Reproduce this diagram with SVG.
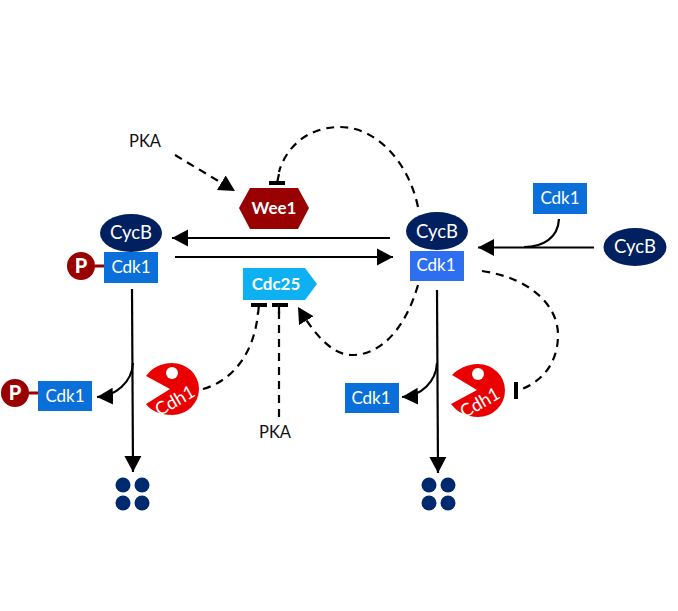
<svg xmlns="http://www.w3.org/2000/svg" width="678" height="611" viewBox="0 0 678 611">
<style>
text{font-family:"Lato","Liberation Sans",sans-serif;text-anchor:middle}
.w{fill:#fff;font-size:17px}
.c{font-size:18.500px}
.h{font-size:18px}
.b{font-weight:700}
.r{font-size:20px;font-weight:900}
.k{fill:#111;font-size:16.500px}
.cyc{fill:#002060}
.cdk{fill:#0a6fd8}
.p{fill:#990000}
.cdh{fill:#ea0000}
.dot{fill:#002a6e}
.l{fill:none;stroke:#000;stroke-width:2.200}
.d{fill:none;stroke:#000;stroke-width:2.200;stroke-dasharray:8 6}
.bar{fill:none;stroke:#000;stroke-width:4}
.link{stroke:#990000;stroke-width:3}
</style>
<defs>
<marker id="a" markerUnits="userSpaceOnUse" markerWidth="18" markerHeight="19" refX="16" refY="9" orient="auto"><path d="M0 0.500L16 9L0 17.500Z" fill="#000"/></marker>
</defs>
<g id="connectors">
<path class="l" d="M390 238H172" marker-end="url(#a)"/>
<path class="l" d="M175 257H393" marker-end="url(#a)"/>
<path class="l" d="M594 247.500H478" marker-end="url(#a)"/>
<path class="l" d="M559 219C558 238 543 247 524 247"/>
<path class="l" d="M132 289L133 472" marker-end="url(#a)"/>
<path class="l" d="M133 363C132 382 116 396 97 397" marker-end="url(#a)"/>
<path class="l" d="M437 290L438 473" marker-end="url(#a)"/>
<path class="l" d="M437 363C436 382 421 396 402 397" marker-end="url(#a)"/>
<path class="d" d="M175 155L235 191" marker-end="url(#a)"/>
<path class="d" d="M418 207C408 160 375 127 340 127C305 127 285 150 279 172"/>
<path class="l" d="M279 174L277 183"/>
<path class="bar" d="M269 183H285"/>
<path class="d" d="M203 389C235 380 255 350 258 312"/>
<path class="l" d="M258 314L259 305"/>
<path class="bar" d="M251 305H267M272 305H288"/>
<path class="d" d="M279 417V311"/>
<path class="l" d="M279 314V305"/>
<path class="d" d="M418 285C405 330 380 355 352 355C330 355 312 330 298 307" marker-end="url(#a)"/>
<path class="d" d="M482 271C530 278 558 305 558 335C558 365 540 382 522 389"/>
<path class="bar" d="M516 382V399"/>
<path class="link" d="M95 266H104M29 393H38"/>
</g>
<g id="pka-top"><text class="k" x="145" y="147">PKA</text></g>
<g id="pka-bottom"><text class="k" x="275" y="438">PKA</text></g>
<g id="wee1"><polygon class="p" points="239,208 250,188 298,188 309,208 298,229 250,229"/><text class="w b" x="274" y="214">Wee1</text></g>
<g id="cdc25"><polygon fill="#0db0f0" points="243,268 305,268 317,284 305,300 243,300"/><text class="w b" x="276" y="290">Cdc25</text></g>
<g id="cycb-left"><ellipse class="cyc" cx="131" cy="233" rx="31" ry="19"/><text class="w c" x="131" y="239">CycB</text></g>
<g id="cdk1-left"><rect class="cdk" x="104" y="252" width="54" height="31"/><text class="w" x="131" y="273">Cdk1</text></g>
<g id="p-left"><circle class="p" cx="81" cy="266" r="14"/><text class="w r" x="81" y="273">P</text></g>
<g id="cycb-right"><ellipse class="cyc" cx="437" cy="231" rx="31" ry="19"/><text class="w c" x="437" y="238">CycB</text></g>
<g id="cdk1-right"><rect fill="#2e6ff2" x="410" y="251" width="54" height="30"/><text class="w" x="436" y="271">Cdk1</text></g>
<g id="cdk1-free"><rect class="cdk" x="533" y="183" width="54" height="31"/><text class="w" x="560" y="204">Cdk1</text></g>
<g id="cycb-free"><ellipse class="cyc" cx="635" cy="247" rx="31.500" ry="19"/><text class="w c" x="635" y="253">CycB</text></g>
<g id="p-cdk1"><circle class="p" cx="15" cy="393" r="14"/><text class="w r" x="15" y="400">P</text><rect class="cdk" x="38" y="381" width="54" height="30"/><text class="w" x="65" y="402">Cdk1</text></g>
<g id="cdk1-lower"><rect class="cdk" x="345" y="383" width="54" height="30"/><text class="w" x="371" y="404">Cdk1</text></g>
<g id="cdh1-left"><path class="cdh" d="M146 376C152 368 161 363 172 363A27 26 0 0 1 172 415C161 415 151 411 146 404L170 389Z"/><circle cx="172" cy="373" r="6" fill="#fff"/><text class="w h" transform="translate(178 406) rotate(-30)" x="0" y="0">Cdh1</text></g>
<g id="cdh1-right"><path class="cdh" d="M452 375C458 369 467 364 478 364A27 26.500 0 0 1 478 417C467 417 457 412 451 404L477 390Z"/><circle cx="478" cy="374" r="6" fill="#fff"/><text class="w h" transform="translate(483 408) rotate(-30)" x="0" y="0">Cdh1</text></g>
<g id="dots-left"><circle class="dot" cx="123" cy="485" r="7.500"/><circle class="dot" cx="142" cy="485" r="7.500"/><circle class="dot" cx="123" cy="503" r="7.500"/><circle class="dot" cx="142" cy="503" r="7.500"/></g>
<g id="dots-right"><circle class="dot" cx="429" cy="485" r="7.500"/><circle class="dot" cx="448" cy="485" r="7.500"/><circle class="dot" cx="429" cy="503" r="7.500"/><circle class="dot" cx="448" cy="503" r="7.500"/></g>
</svg>
